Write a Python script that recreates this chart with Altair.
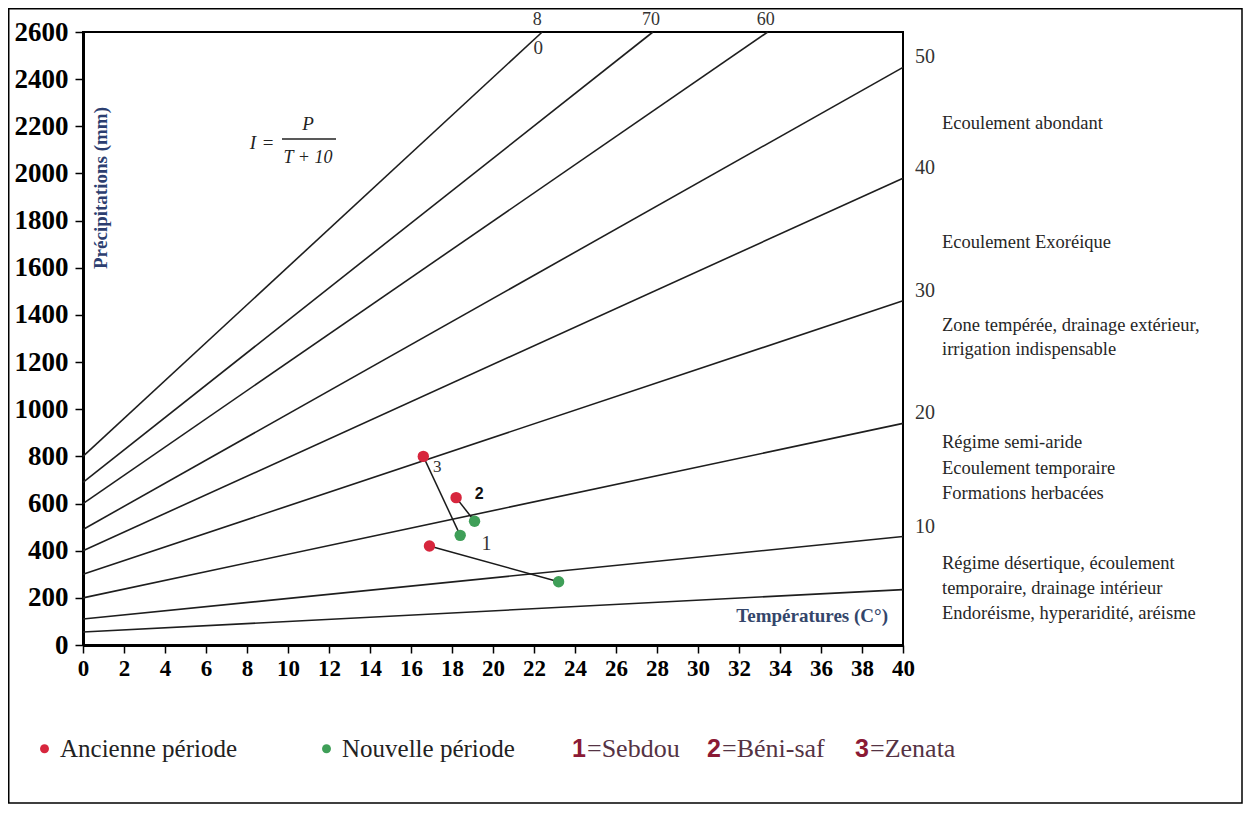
import altair as alt
import pandas as pd

# ---------------- data ----------------
index_values = [80, 70, 60, 50, 40, 30, 20, 10, 5]
start_T = [0, 0, 0, 0, 0, 0, 0, 0, 0]
start_P = [800, 690, 600, 490, 400, 300, 200, 110, 55]
end_T = [22.4, 27.8, 33.4, 40, 40, 40, 40, 40, 40]
end_P = [2600, 2600, 2600, 2450, 1980, 1460, 940, 460, 235]

stations = ["Sebdou", "Béni-saf", "Zenata"]
station_num = ["1", "2", "3"]
old_T = [16.9, 18.2, 16.6]
old_P = [420, 625, 800]
new_T = [23.2, 19.1, 18.4]
new_P = [268, 525, 465]

periods = ["Ancienne période", "Nouvelle période"]
period_colors = ["#d7263d", "#3f9f58"]

x_ticks = list(range(0, 41, 2))
y_ticks = list(range(0, 2601, 200))

zone_texts = [
    "Ecoulement abondant",
    "Ecoulement Exoréique",
    "Zone tempérée, drainage extérieur,",
    "irrigation indispensable",
    "Régime semi-aride",
    "Ecoulement temporaire",
    "Formations herbacées",
    "Régime désertique, écoulement",
    "temporaire, drainage intérieur",
    "Endoréisme, hyperaridité, aréisme",
]
zone_y = [123, 242, 325, 349, 442, 468, 493, 563, 588, 613]

# ---------------- tables ----------------
lines_rows = []
for i, t0, p0, t1, p1 in zip(index_values, start_T, start_P, end_T, end_P):
    lines_rows.append({"I": i, "T": t0, "P": p0, "end": False})
    lines_rows.append({"I": i, "T": t1, "P": p1, "end": True})
lines_df = pd.DataFrame(lines_rows)

pts_rows = []
for s, n, ot, op, nt, np_ in zip(stations, station_num, old_T, old_P, new_T, new_P):
    pts_rows.append({"Station": s, "Num": n, "Période": periods[0], "T": ot, "P": op, "o": 0})
    pts_rows.append({"Station": s, "Num": n, "Période": periods[1], "T": nt, "P": np_, "o": 1})
pts_df = pd.DataFrame(pts_rows)

W, H = 820, 613
PL, PT = 75, 24
PR, PB = 340, 159
OX, OY = 8 + PL, 8 + PT  # page position of plot origin

xs = alt.Scale(domain=[0, 40], nice=False, zero=False)
ys = alt.Scale(domain=[0, 2600], nice=False)

serif = "Liberation Serif"
sans = "Liberation Sans"

x_enc = alt.X("T:Q", scale=xs, axis=alt.Axis(values=x_ticks, title=None, grid=False, format="d",
                                               labelFont=serif, labelFontWeight="bold",
                                               labelFontSize=23, labelColor="black",
                                               tickSize=8, tickWidth=1.5, tickColor="black",
                                               domainColor="black", domainWidth=3,
                                               labelPadding=4, labelFlush=False))
y_enc = alt.Y("P:Q", scale=ys, axis=alt.Axis(values=y_ticks, title=None, grid=False, format="d",
                                               labelFont=serif, labelFontWeight="bold",
                                               labelFontSize=27, labelColor="black",
                                               tickSize=8, tickWidth=1.5, tickColor="black",
                                               domainColor="black", domainWidth=3,
                                               labelPadding=7, labelFlush=False))

index_lines = alt.Chart(lines_df).mark_line(color="#1e1e1e", strokeWidth=1.6).encode(
    x=x_enc, y=y_enc, detail="I:N", order="T:Q")

right_labels = alt.Chart(lines_df).transform_filter(
    "datum.end && datum.T >= 40 && datum.I >= 10").mark_text(
    font=serif, fontSize=20, color="#333333", align="left", baseline="middle", dx=12, dy=-10
).encode(x=alt.X("T:Q", scale=xs), y=alt.Y("P:Q", scale=ys), text="I:N")

top_70_60 = alt.Chart(lines_df).transform_filter(
    "datum.end && (datum.I == 70 || datum.I == 60)").mark_text(
    font=serif, fontSize=18, color="#333333", align="center", baseline="middle", dx=-2, dy=-12
).encode(x=alt.X("T:Q", scale=xs), y=alt.Y("P:Q", scale=ys), text="I:N")

top_8 = alt.Chart(lines_df).transform_filter("datum.end && datum.I == 80").mark_text(
    text="8", font=serif, fontSize=18, color="#333333", align="center", baseline="middle",
    dx=-5, dy=-12).encode(x=alt.X("T:Q", scale=xs), y=alt.Y("P:Q", scale=ys))
top_0 = alt.Chart(lines_df).transform_filter("datum.end && datum.I == 80").mark_text(
    text="0", font=serif, fontSize=19, color="#333333", align="center", baseline="middle",
    dx=-4, dy=16).encode(x=alt.X("T:Q", scale=xs), y=alt.Y("P:Q", scale=ys))

segments = alt.Chart(pts_df).mark_line(color="#1a1a1a", strokeWidth=1.5).encode(
    x=alt.X("T:Q", scale=xs), y=alt.Y("P:Q", scale=ys), detail="Station:N", order="o:Q")

points = alt.Chart(pts_df).mark_circle(size=130, opacity=1).encode(
    x=alt.X("T:Q", scale=xs), y=alt.Y("P:Q", scale=ys),
    color=alt.Color("Période:N", scale=alt.Scale(domain=periods, range=period_colors),
                    legend=alt.Legend(orient="none", legendX=-51, legendY=704,
                                      direction="horizontal", title=None,
                                      labelFont=serif, labelFontSize=25, labelColor="#222222",
                                      symbolType="circle", symbolSize=80, symbolStrokeWidth=0,
                                      symbolOpacity=1, labelOffset=3, columnPadding=76,
                                      labelLimit=400)))

old_only = alt.Chart(pts_df).transform_filter("datum.o == 0")
lab3 = old_only.transform_filter("datum.Num == '3'").mark_text(
    font=serif, fontSize=17, color="#333333", dx=14, dy=11, baseline="middle"
).encode(x=alt.X("T:Q", scale=xs), y=alt.Y("P:Q", scale=ys), text="Num:N")
lab2 = old_only.transform_filter("datum.Num == '2'").mark_text(
    font=sans, fontWeight="bold", fontSize=16, color="#111111", dx=23, dy=-4, baseline="middle"
).encode(x=alt.X("T:Q", scale=xs), y=alt.Y("P:Q", scale=ys), text="Num:N")
lab1 = old_only.transform_filter("datum.Num == '1'").mark_text(
    font=serif, fontSize=20, color="#333333", dx=57, dy=-2, baseline="middle"
).encode(x=alt.X("T:Q", scale=xs), y=alt.Y("P:Q", scale=ys), text="Num:N")

one = pd.DataFrame({"k": [0]})


def label(text, px, py, size, font=serif, weight="normal", color="#222222",
          align="left", style=None, angle=None):
    kw = dict(text=text, fontSize=size, font=font, fontWeight=weight, color=color,
              align=align, baseline="middle")
    if style:
        kw["fontStyle"] = style
    if angle is not None:
        kw["angle"] = angle
    return alt.Chart(one).mark_text(**kw).encode(x=alt.value(px - OX), y=alt.value(py - OY))


annotations = []
for t, yy in zip(zone_texts, zone_y):
    annotations.append(label(t, 942, yy, 18.5, color="#262626"))

annotations.append(label("Précipitations (mm)", 101, 188, 19, weight="bold",
                         color="#2c3e70", align="center", angle=270))
annotations.append(label("Températures (C°)", 888, 616, 19, weight="bold",
                         color="#34466b", align="right"))

# formula I = P / (T + 10)
annotations.append(label("I", 253, 143, 19, style="italic", align="center"))
annotations.append(label("=", 268, 143, 19, align="center"))
annotations.append(label("P", 308, 124, 19, style="italic", align="center"))
annotations.append(label("T + 10", 308, 158, 18, style="italic", align="center"))
frac_bar = alt.Chart(one).mark_rule(color="#222222", strokeWidth=1.3).encode(
    x=alt.value(282 - OX), x2=alt.value(336 - OX), y=alt.value(139 - OY))

# station key
num_color = "#8b1a35"
txt_color = "#553344"
annotations.append(label("1", 572, 749, 25, font=sans, weight="bold", color=num_color))
annotations.append(label("=Sebdou", 587, 749, 26, color=txt_color))
annotations.append(label("2", 707, 749, 25, font=sans, weight="bold", color=num_color))
annotations.append(label("=Béni-saf", 722, 749, 26, color=txt_color))
annotations.append(label("3", 855, 749, 25, font=sans, weight="bold", color=num_color))
annotations.append(label("=Zenata", 870, 749, 26, color=txt_color))

frame = alt.Chart(one).mark_rect(fillOpacity=0, stroke="black", strokeWidth=1.5).encode(
    x=alt.value(-PL + 0.75), x2=alt.value(W + PR - 1), y=alt.value(-PT + 0.75),
    y2=alt.value(H + PB - 1))

chart = alt.layer(
    index_lines, segments, points, right_labels, top_70_60, top_8, top_0,
    lab1, lab2, lab3, frac_bar, *annotations, frame
).properties(
    width=W, height=H,
    padding={"left": PL, "top": PT, "right": PR, "bottom": PB},
    autosize=alt.AutoSizeParams(type="none"),
    background="white",
).configure_view(stroke="black", strokeWidth=2)

chart.save("out.html", embed_options={"renderer": "svg", "actions": False})
